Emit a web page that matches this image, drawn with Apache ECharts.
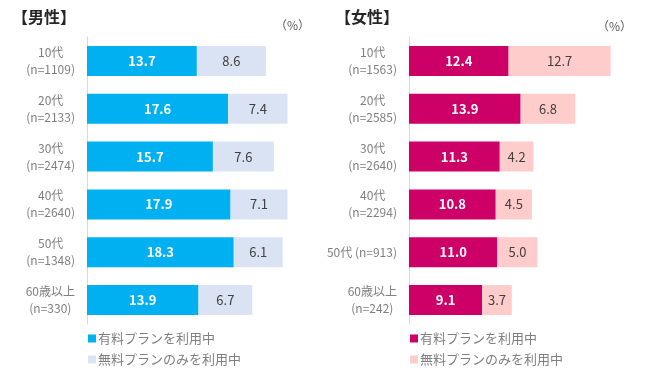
<!DOCTYPE html>
<html><head><meta charset="utf-8">
<script src="https://cdn.jsdelivr.net/npm/echarts@6/dist/echarts.min.js"></script>
<style>html,body{margin:0;padding:0;background:#fff}#c{width:650px;height:369px}</style>
</head><body><div id="c"></div>
<script>
const maleCats = ['10代\n(n=1109)','20代\n(n=2133)','30代\n(n=2474)','40代\n(n=2640)','50代\n(n=1348)','60歳以上\n(n=330)'];
const malePaid = [13.7,17.6,15.7,17.9,18.3,13.9];
const maleFree = [8.6,7.4,7.6,7.1,6.1,6.7];
const femaleCats = ['10代\n(n=1563)','20代\n(n=2585)','30代\n(n=2640)','40代\n(n=2294)','50代 (n=913)','60歳以上\n(n=242)'];
const femalePaid = [12.4,13.9,11.3,10.8,11.0,9.1];
const femaleFree = [12.7,6.8,4.2,4.5,5.0,3.7];
const seriesNames = ['有料プランを利用中','無料プランのみを利用中'];

const FONT = '"Noto Sans CJK JP", "Noto Sans", sans-serif';
const chart = echarts.init(document.getElementById('c'), null, {renderer:'canvas'});

function yAxis(idx, cats){
  return {
    type:'category', gridIndex: idx, data: cats, inverse: true,
    axisLine:{show:true, lineStyle:{color:'#d9d9d9', width:1}},
    axisTick:{show:false},
    axisLabel:{
      align:'right', margin:12, fontFamily:FONT, color:'#7f7f7f', fontSize:12,
      formatter: v => v.split('\n').map(s => '{c|' + s + '}').join('\n'),
      rich:{c:{align:'center', color:'#7f7f7f', fontSize:12, lineHeight:17, fontFamily:FONT}}
    }
  };
}
function xAxis(idx){
  return {type:'value', gridIndex: idx, min:0, max:30, show:false, splitLine:{show:false}};
}
function bar(name, data, idx, color, labelColor, bold){
  return {
    type:'bar', name: name, stack:'s'+idx, xAxisIndex: idx, yAxisIndex: idx,
    data: data, barWidth: 30,
    itemStyle:{color: color},
    label:{show:true, position:'inside', color: labelColor, fontFamily: FONT,
      fontSize: 13, fontWeight: bold ? 'bold' : 'normal',
      formatter: p => p.value.toFixed(1)}
  };
}
const sep = '|';
function legend(name, left, top){
  return {left:left, top:top, orient:'horizontal', itemWidth:8, itemHeight:8, icon:'rect',
    data:[name], formatter: n => n.split(sep)[0],
    textStyle:{fontFamily:FONT, fontSize:13, color:'#7f7f7f', padding:[0,0,0,-3]}};
}
const option = {
  animation:false,
  backgroundColor:'#ffffff',
  grid:[
    {left:87, top:37, bottom:45, width:240.6},
    {left:409, top:37, bottom:45, width:241.8}
  ],
  xAxis:[xAxis(0), xAxis(1)],
  yAxis:[yAxis(0, maleCats), yAxis(1, femaleCats)],
  legend:[
    legend(seriesNames[0]+sep+'m', 83, 327),
    legend(seriesNames[1]+sep+'m', 83, 348),
    legend(seriesNames[0]+sep+'f', 405, 327),
    legend(seriesNames[1]+sep+'f', 405, 348)
  ],
  graphic:[
    {type:'text', left:12, top:9, style:{text:'【男性】', font:'bold 16px '+FONT, fill:'#262626'}},
    {type:'text', left:275, top:19, style:{text:'（%）', font:'12px '+FONT, fill:'#595959'}},
    {type:'text', left:335, top:9, style:{text:'【女性】', font:'bold 16px '+FONT, fill:'#262626'}},
    {type:'text', left:597, top:20, style:{text:'（%）', font:'12px '+FONT, fill:'#595959'}}
  ],
  series:[
    bar(seriesNames[0]+sep+'m', malePaid, 0, '#00b0f0', '#ffffff', true),
    bar(seriesNames[1]+sep+'m', maleFree, 0, '#dae3f3', '#404040', false),
    bar(seriesNames[0]+sep+'f', femalePaid, 1, '#cc0066', '#ffffff', true),
    bar(seriesNames[1]+sep+'f', femaleFree, 1, '#ffcccc', '#404040', false)
  ]
};
chart.setOption(option);
</script></body></html>
